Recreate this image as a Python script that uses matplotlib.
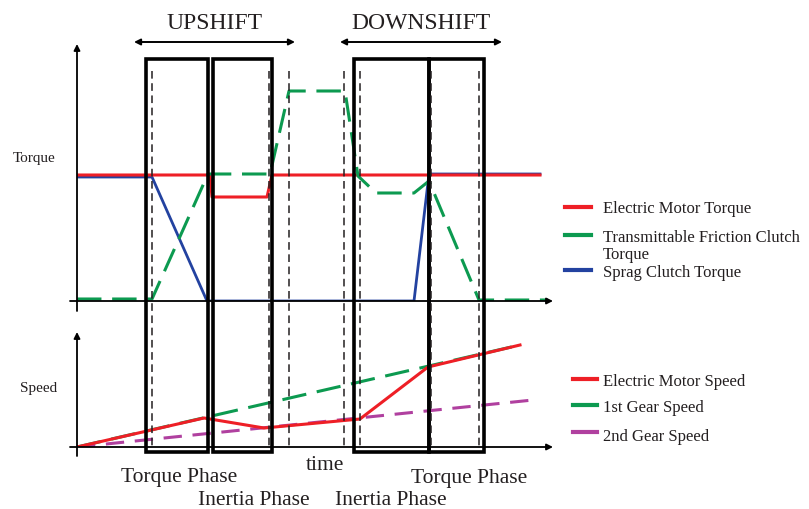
'''Upshift / downshift torque and speed schematic'''

import matplotlib
matplotlib.use('Agg')
import matplotlib.pyplot as plt
from matplotlib import transforms
from matplotlib.patches import Rectangle

plt.rcParams['font.family'] = ['Liberation Serif', 'DejaVu Serif']

W, H = 809, 510
INK = '#231f20'
RED = '#ee1f26'
GREEN = '#0c9a50'
BLUE = '#2342a0'
PURPLE = '#b0409f'

# torque panel (time units, torque units)
motor_torque_t = [0, 133, 135, 190, 195, 463]
motor_torque = [126, 126, 104, 104, 126, 126]
sprag_t = [0, 75, 130, 337, 352, 463]
sprag_torque = [124, 124, 0, 0, 127, 127]
friction_t = [0, 75, 131, 193, 212, 268, 281, 299, 337, 352, 402, 471]
friction_torque = [2, 2, 127, 127, 210, 210, 125, 108, 108, 120, 1, 1]

# speed panel
motor_speed_t = [0, 127, 133, 187, 283, 351, 443]
motor_speed = [0, 29, 28, 19, 28, 80, 102]
gear1_t = [0, 443]
gear1_speed = [0, 102]
gear2_t = [0, 456]
gear2_speed = [0, 47]

# phases
phase_boxes = [(69, 131), (136, 195), (277, 352), (352, 407)]
phase_marks = [75, 192, 212, 267, 283, 354, 402]
phase_labels = ['Torque Phase', 'Inertia Phase', 'Inertia Phase', 'Torque Phase']
shift_spans = [('UPSHIFT', 57, 218), ('DOWNSHIFT', 263, 425)]

torque_legend = [('Electric Motor Torque', RED),
                 ('Transmittable Friction Clutch\nTorque', GREEN),
                 ('Sprag Clutch Torque', BLUE)]
speed_legend = [('Electric Motor Speed', RED),
                ('1st Gear Speed', GREEN),
                ('2nd Gear Speed', PURPLE)]


def rect(x0, y0, x1, y1):
    return [x0 / W, 1 - y1 / H, (x1 - x0) / W, (y1 - y0) / H]


fig = plt.figure(figsize=(W / 100, H / 100), dpi=100)
ax_t = fig.add_axes(rect(77, 45, 552, 302))
ax_s = fig.add_axes(rect(77, 333, 552, 448))
for ax, top in ((ax_t, 257), (ax_s, 115)):
    ax.set_xlim(0, 475)
    ax.set_ylim(0, top)
    ax.axis('off')

ov = fig.add_axes([0, 0, 1, 1])
ov.set_xlim(0, W)
ov.set_ylim(H, 0)
ov.axis('off')
ov.patch.set_alpha(0)
tr = transforms.blended_transform_factory(ax_t.transData, ov.transData)

# curves
ax_t.plot(sprag_t, sprag_torque, color=BLUE, lw=2.0, solid_joinstyle='miter')
ax_t.plot(motor_torque_t, motor_torque, color=RED, lw=2.2)
ax_t.plot(friction_t, friction_torque, color=GREEN, lw=2.2, dashes=(8, 3.5))

ax_s.plot(gear1_t, gear1_speed, color=GREEN, lw=2.2, dashes=(8, 3.5))
ax_s.plot(gear2_t, gear2_speed, color=PURPLE, lw=2.2, dashes=(6, 3.5))
ax_s.plot(motor_speed_t, motor_speed, color=RED, lw=2.2)

# axes with arrows
arrow = dict(arrowstyle='-|>', lw=1.3, color='black', mutation_scale=9, shrinkA=0, shrinkB=0)
ov.annotate('', xy=(0, 45), xytext=(0, 312), xycoords=tr, textcoords=tr, arrowprops=arrow)
ov.annotate('', xy=(476, 302), xytext=(-7, 302), xycoords=tr, textcoords=tr, arrowprops=arrow)
ov.annotate('', xy=(0, 333), xytext=(0, 457), xycoords=tr, textcoords=tr, arrowprops=arrow)
ov.annotate('', xy=(476, 448), xytext=(-7, 448), xycoords=tr, textcoords=tr, arrowprops=arrow)

# phase boxes and marks
for a, b in phase_boxes:
    ov.add_patch(Rectangle((a, 60), b - a, 393, transform=tr, fill=False,
                           ec='black', lw=2.6, joinstyle='miter'))
for t in phase_marks:
    ov.plot([t, t], [72, 448], transform=tr, color=INK, lw=1.1, dashes=(5, 3))

# shift arrows
for name, a, b in shift_spans:
    ov.annotate('', xy=(b, 43), xytext=(a, 43), xycoords=tr, textcoords=tr,
                arrowprops=dict(arrowstyle='<|-|>', lw=1.4, color='black',
                                mutation_scale=9, shrinkA=0, shrinkB=0))
    ov.text((a + b) / 2, 29, name, transform=tr, ha='center', va='baseline',
            fontsize=17, color=INK)

# phase labels
label_pos = [(179, 482), (254, 505), (391, 505), (469, 483)]
for text, (x, y) in zip(phase_labels, label_pos):
    ov.text(x, y, text, ha='center', va='baseline', fontsize=15.5, color=INK)
ov.text(325, 470, 'time', ha='center', va='baseline', fontsize=15.5, color=INK)

ov.text(34, 162, 'Torque', ha='center', va='baseline', fontsize=11, color=INK)
ov.text(39, 392, 'Speed', ha='center', va='baseline', fontsize=11, color=INK)

# legends (baseline of a wrapped label is its last line)
for (text, color), ly, ty in zip(torque_legend, [208, 236, 271], [213, 259, 277]):
    ov.plot([565, 591], [ly, ly], color=color, lw=3)
    ov.text(603, ty, text, ha='left', va='baseline', fontsize=12, color=INK,
            linespacing=1.05)
for (text, color), ly, ty in zip(speed_legend, [380, 406, 433], [386, 412, 441]):
    ov.plot([573, 597], [ly, ly], color=color, lw=3)
    ov.text(603, ty, text, ha='left', va='baseline', fontsize=12, color=INK)

fig.savefig('out.png', dpi=100)
